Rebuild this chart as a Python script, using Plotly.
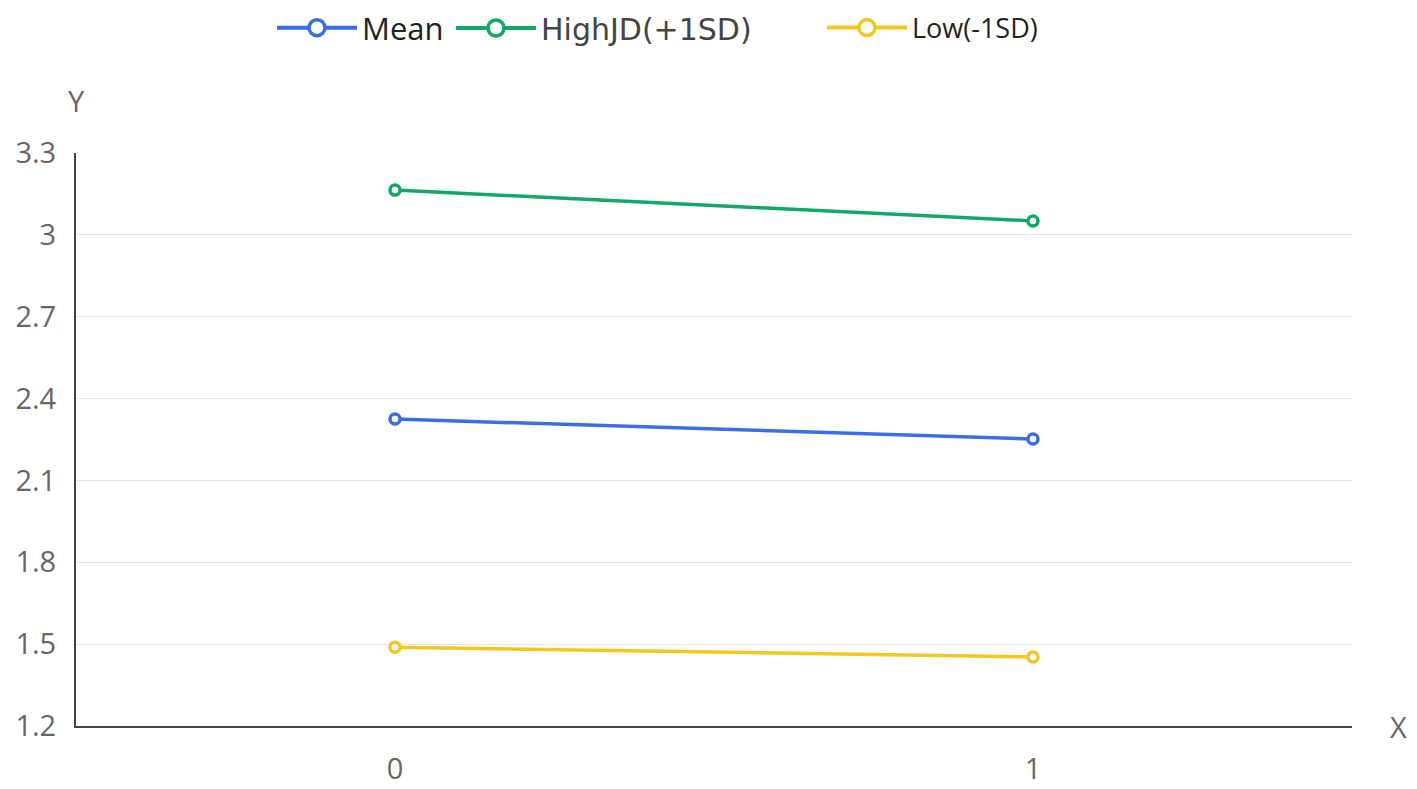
import plotly.graph_objects as go

x_vals = [0, 1]
mean_vals = [2.325, 2.252]
high_vals = [3.164, 3.051]
low_vals = [1.489, 1.453]
y_ticks = [1.2, 1.5, 1.8, 2.1, 2.4, 2.7, 3.0, 3.3]
y_tick_text = ["1.2", "1.5", "1.8", "2.1", "2.4", "2.7", "3", "3.3"]

series = [
    ("Mean", mean_vals, "#3a6ee8", "legend"),
    ("HighJD(+1SD)", high_vals, "#12a868", "legend2"),
    ("Low(-1SD)", low_vals, "#f4c620", "legend3"),
]

fig = go.Figure()
for name, vals, color, lg in series:
    fig.add_trace(go.Scatter(
        x=x_vals, y=vals, name=name, mode="lines+markers", showlegend=False,
        line=dict(color=color, width=3.5),
        marker=dict(symbol="circle", size=10, color="white",
                    line=dict(color=color, width=3.5)),
    ))
    # legend-only entry with a bigger icon
    fig.add_trace(go.Scatter(
        x=[None], y=[None], name=name, mode="lines+markers", legend=lg,
        line=dict(color=color, width=4),
        marker=dict(symbol="circle", size=20, color="white",
                    line=dict(color=color, width=3.5)),
    ))

# page body has an 8px margin, so the figure is 8px smaller than the window
W, H = 1409, 781
leg_y = 1 - 20 / H

fig.update_layout(
    width=W, height=H,
    plot_bgcolor="white", paper_bgcolor="white",
    margin=dict(l=68, r=65, t=145, b=63, autoexpand=False),
    font=dict(family="Open Sans", size=29, color="#666"),
    showlegend=True,
    legend=dict(orientation="h", xref="container", x=264 / W, xanchor="left",
                yref="container", y=leg_y, yanchor="middle",
                font=dict(family="Open Sans", size=31, color="#222"), itemwidth=80),
    legend2=dict(orientation="h", xref="container", x=443 / W, xanchor="left",
                 yref="container", y=leg_y, yanchor="middle",
                 font=dict(family="DejaVu Sans", size=30, color="#444"), itemwidth=80),
    legend3=dict(orientation="h", xref="container", x=814 / W, xanchor="left",
                 yref="container", y=leg_y, yanchor="middle",
                 font=dict(family="Open Sans", size=27, color="#222"), itemwidth=80),
    xaxis=dict(range=[-0.5, 1.5], tickvals=x_vals, ticktext=["0", "1"],
               showgrid=False, zeroline=False, showline=True,
               linecolor="#444", linewidth=2, ticks="", ticklabelstandoff=16),
    yaxis=dict(range=[1.2, 3.3], tickvals=y_ticks, ticktext=y_tick_text,
               showgrid=True, gridcolor="#e6e6e6", gridwidth=1,
               zeroline=False, showline=True, linecolor="#444", linewidth=2,
               ticks="", ticklabelstandoff=12),
    annotations=[
        dict(text="Y", x=0, xref="paper", y=1.0, yref="paper", yshift=53,
             showarrow=False, xanchor="center", yanchor="middle",
             font=dict(size=29, color="#666")),
        dict(text="X", x=1.0, xref="paper", y=0, yref="paper", xshift=46,
             showarrow=False, xanchor="center", yanchor="middle",
             font=dict(size=29, color="#666")),
    ],
)

fig.write_html("out.html")
